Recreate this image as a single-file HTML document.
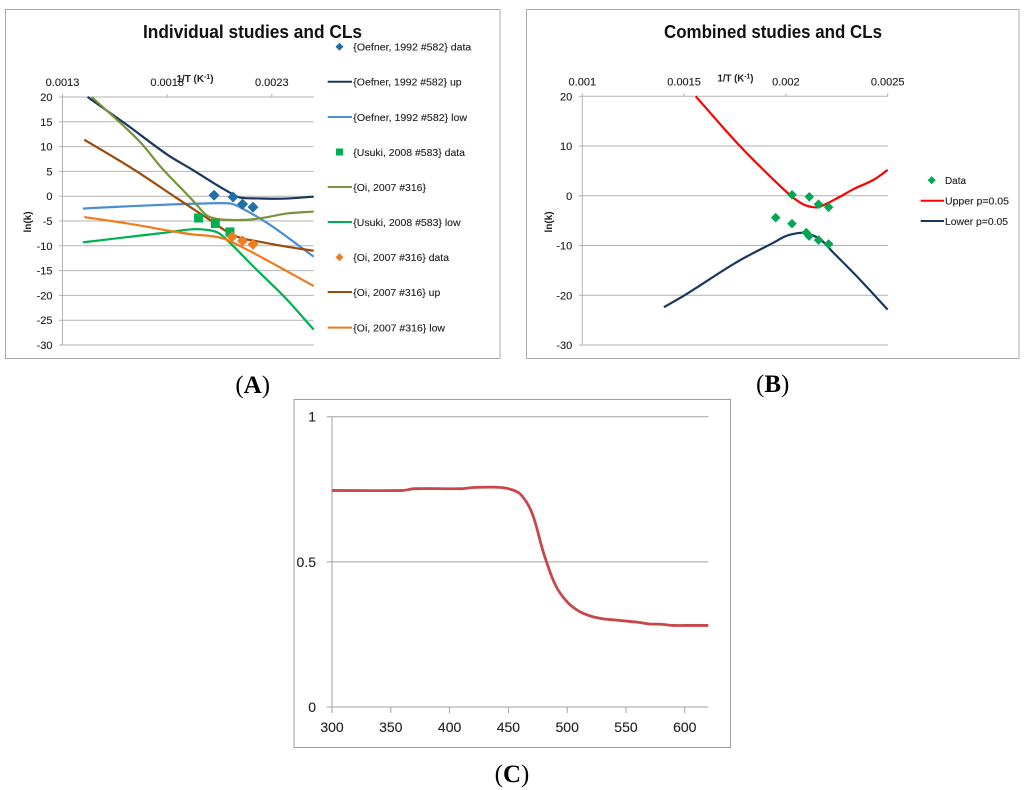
<!DOCTYPE html>
<html lang="en">
<head>
<meta charset="utf-8">
<title>Individual and combined studies with confidence limits</title>
<style>
html,body{margin:0;padding:0;background:#fff;width:1024px;height:790px;overflow:hidden}
svg{display:block;filter:blur(0.35px)}
text{font-family:"Liberation Sans",sans-serif;fill:#222;stroke:#222;stroke-width:.12px}
.leg{font-size:10.5px}
.title{font-size:18px;font-weight:bold;fill:#111;stroke:none}
.axt{font-size:10px;font-weight:bold;fill:#222;stroke:none}
.panel{font-family:"Liberation Serif",serif;font-size:25px;fill:#000;stroke:none}
.panel tspan{font-weight:bold}
</style>
</head>
<body>
<svg id="fig" xmlns="http://www.w3.org/2000/svg" width="1024" height="790" viewBox="0 0 1024 790">
  <rect x="5.5" y="9.5" width="494.5" height="349" fill="#fff" stroke="#ababab"/>
  <rect x="526.5" y="9.5" width="492.5" height="349" fill="#fff" stroke="#ababab"/>
  <rect x="294" y="399.5" width="436.5" height="348" fill="#fff" stroke="#9c9c9c"/>

  <text class="title" x="143" y="38" textLength="219" lengthAdjust="spacingAndGlyphs">Individual studies and CLs</text>
  <text class="title" x="664" y="38" textLength="218" lengthAdjust="spacingAndGlyphs">Combined studies and CLs</text>

  <g id="a-grid"></g>
  <g id="b-grid"></g>
  <g id="c-grid"></g>

  <text class="axt" x="176.5" y="82" textLength="37" lengthAdjust="spacingAndGlyphs">1/T (K<tspan dy="-3" font-size="7">-1</tspan><tspan dy="3">)</tspan></text>
  <text class="axt" x="717.5" y="81.5" textLength="36" lengthAdjust="spacingAndGlyphs">1/T (K<tspan dy="-3" font-size="7">-1</tspan><tspan dy="3">)</tspan></text>
  <text class="axt" transform="translate(31,222) rotate(-90)" text-anchor="middle">ln(k)</text>
  <text class="axt" transform="translate(552,222) rotate(-90)" text-anchor="middle">ln(k)</text>

  <g id="a-marks"></g>
  <g id="b-marks"></g>
  <g id="c-marks"></g>

  <g>
    <g>
      <path d="M339.5 42.7l4 4-4 4-4-4z" fill="#1f6fa8"/>
      <text class="leg" x="353.3" y="50.5" textLength="118" lengthAdjust="spacingAndGlyphs">{Oefner, 1992 #582} data</text>
    </g>
    <g>
      <line x1="327.7" x2="352" y1="81.7" y2="81.7" stroke="#17375e" stroke-width="2"/>
      <text class="leg" x="353.3" y="85.5" textLength="108.3" lengthAdjust="spacingAndGlyphs">{Oefner, 1992 #582} up</text>
    </g>
    <g>
      <line x1="327.7" x2="352" y1="117" y2="117" stroke="#4a8fd0" stroke-width="2"/>
      <text class="leg" x="353.3" y="120.8" textLength="113.7" lengthAdjust="spacingAndGlyphs">{Oefner, 1992 #582} low</text>
    </g>
    <g>
      <rect x="336" y="148.5" width="7" height="7" fill="#00b050"/>
      <text class="leg" x="353.3" y="155.8" textLength="111.7" lengthAdjust="spacingAndGlyphs">{Usuki, 2008 #583} data</text>
    </g>
    <g>
      <line x1="327.7" x2="352" y1="187" y2="187" stroke="#77933c" stroke-width="2"/>
      <text class="leg" x="353.3" y="190.8" textLength="72.7" lengthAdjust="spacingAndGlyphs">{Oi, 2007 #316}</text>
    </g>
    <g>
      <line x1="327.7" x2="352" y1="222" y2="222" stroke="#00b050" stroke-width="2"/>
      <text class="leg" x="353.3" y="225.8" textLength="107.3" lengthAdjust="spacingAndGlyphs">{Usuki, 2008 #583} low</text>
    </g>
    <g>
      <path d="M339.5 253.3l4 4-4 4-4-4z" fill="#f47c20"/>
      <text class="leg" x="353.3" y="261.1" textLength="95.7" lengthAdjust="spacingAndGlyphs">{Oi, 2007 #316} data</text>
    </g>
    <g>
      <line x1="327.7" x2="352" y1="292" y2="292" stroke="#9c4a0a" stroke-width="2"/>
      <text class="leg" x="353.3" y="295.8" textLength="87" lengthAdjust="spacingAndGlyphs">{Oi, 2007 #316} up</text>
    </g>
    <g>
      <line x1="327.7" x2="352" y1="327.6" y2="327.6" stroke="#f07a1a" stroke-width="2"/>
      <text class="leg" x="353.3" y="331.4" textLength="91.7" lengthAdjust="spacingAndGlyphs">{Oi, 2007 #316} low</text>
    </g>
  </g>

  <g>
    <g>
      <path d="M931.7 176.3l4 4-4 4-4-4z" fill="#00a651"/>
      <text class="leg" x="945" y="184.2" textLength="21" lengthAdjust="spacingAndGlyphs">Data</text>
    </g>
    <g>
      <line x1="920.7" x2="944" y1="200.7" y2="200.7" stroke="#ff0000" stroke-width="2"/>
      <text class="leg" x="945" y="204.5" textLength="64" lengthAdjust="spacingAndGlyphs">Upper p=0.05</text>
    </g>
    <g>
      <line x1="920.7" x2="944" y1="221" y2="221" stroke="#17375e" stroke-width="2"/>
      <text class="leg" x="945" y="224.8" textLength="63" lengthAdjust="spacingAndGlyphs">Lower p=0.05</text>
    </g>
  </g>

  <text class="panel" x="252.7" y="393" text-anchor="middle">(<tspan>A</tspan>)</text>
  <text class="panel" x="772.7" y="392" text-anchor="middle">(<tspan>B</tspan>)</text>
  <text class="panel" x="512" y="782" text-anchor="middle">(<tspan>C</tspan>)</text>
</svg>

<script>
// Chart A data
const aXTicks = [0.0013, 0.0018, 0.0023];
const aXTickLabels = ['0.0013', '0.0018', '0.0023'];
const aYTicks = [20, 15, 10, 5, 0, -5, -10, -15, -20, -25, -30];

const oefnerUpX = [0.00142, 0.001607, 0.0018, 0.001918, 0.00202, 0.002115, 0.00215, 0.00223, 0.00235, 0.0025];
const oefnerUpY = [20, 14.4, 8.4, 5.4, 2.7, 0.35, -0.3, -0.45, -0.5, -0.1];
const oefnerLowX = [0.001397, 0.00148, 0.0018, 0.00207, 0.002115, 0.00216, 0.00224, 0.00232, 0.0025];
const oefnerLowY = [-2.5, -2.3, -1.7, -1.4, -1.6, -2.5, -4.4, -6.6, -12.2];
const qiX = [0.00144, 0.00166, 0.00178, 0.00191, 0.00194, 0.00199, 0.00204, 0.002115, 0.0022, 0.00228, 0.00237, 0.0025];
const qiY = [20, 11.4, 5.4, -0.3, -1.7, -3.9, -4.6, -4.8, -4.7, -4.2, -3.5, -3.1];
const usukiLowX = [0.001397, 0.00148, 0.001638, 0.0018, 0.00191, 0.00197, 0.00204, 0.0021, 0.00221, 0.00236, 0.0025];
const usukiLowY = [-9.3, -8.9, -8.1, -7.3, -6.7, -6.7, -7.3, -9.4, -14.1, -20.3, -26.9];
const qiUpX = [0.001404, 0.00164, 0.00185, 0.00199, 0.00208, 0.00215, 0.00223, 0.00236, 0.0025];
const qiUpY = [11.4, 5.4, -0.5, -4.4, -7, -8.4, -9.1, -10.1, -11];
const qiLowX = [0.001404, 0.00164, 0.0018, 0.00192, 0.00202, 0.00208, 0.00221, 0.0025];
const qiLowY = [-4.2, -5.7, -6.9, -7.7, -8.1, -8.7, -11.4, -18.1];

const oefnerDataX = [0.002024, 0.002115, 0.00216, 0.00221];
const oefnerDataY = [0.2, -0.15, -1.6, -2.2];
const usukiDataX = [0.00195, 0.00203, 0.0021];
const usukiDataY = [-4.4, -5.5, -7.2];
const qiDataX = [0.00211, 0.00216, 0.00221];
const qiDataY = [-8.2, -9, -9.7];

// Chart B data
const bXTicks = [0.001, 0.0015, 0.002, 0.0025];
const bXTickLabels = ['0.001', '0.0015', '0.002', '0.0025'];
const bYTicks = [20, 10, 0, -10, -20, -30];

const upperX = [0.001557, 0.001774, 0.00194, 0.00203, 0.002085, 0.002134, 0.002167, 0.002265, 0.00233, 0.00243, 0.0025];
const upperY = [20, 10, 3.2, -0.2, -1.7, -2.3, -2.2, -0.2, 1.3, 3.2, 5.2];
const lowerX = [0.001401, 0.00151, 0.00176, 0.00194, 0.002, 0.00206, 0.0021, 0.00217, 0.00223, 0.00236, 0.0025];
const lowerY = [-22.4, -19.8, -13.3, -9.4, -8.1, -7.5, -7.5, -8.8, -11.3, -16.7, -22.9];
const combinedDataX = [0.00195, 0.00203, 0.00203, 0.002115, 0.00216, 0.00221, 0.0021, 0.002114, 0.00216, 0.00221];
const combinedDataY = [-4.4, 0.2, -5.6, -0.2, -1.7, -2.3, -7.4, -8.1, -8.9, -9.7];

// Chart C data
const cXTicks = [300, 350, 400, 450, 500, 550, 600];
const cYTicks = [1, 0.5, 0];
const temperature = [300, 360, 370, 410, 420, 440, 450, 460, 470, 480, 490, 500, 510, 520, 530, 540, 550, 560, 570, 580, 590, 600, 620];
const fraction = [0.746, 0.746, 0.752, 0.752, 0.756, 0.757, 0.752, 0.734, 0.669, 0.53, 0.42, 0.362, 0.33, 0.313, 0.304, 0.3, 0.296, 0.292, 0.286, 0.285, 0.281, 0.281, 0.281];

const NS = 'http://www.w3.org/2000/svg';
function make(tag, parent, attrs) {
  const el = document.createElementNS(NS, tag);
  for (const k in attrs) el.setAttribute(k, attrs[k]);
  parent.appendChild(el);
  return el;
}
function linear(d0, d1, p0, p1) {
  return function (v) { return p0 + (v - d0) * (p1 - p0) / (d1 - d0); };
}
// Smooth path through the data points, like the spreadsheet's smoothed lines
function smoothPath(pts) {
  let d = 'M' + pts[0][0].toFixed(2) + ' ' + pts[0][1].toFixed(2);
  for (let i = 0; i < pts.length - 1; i++) {
    const p0 = pts[Math.max(i - 1, 0)], p1 = pts[i], p2 = pts[i + 1], p3 = pts[Math.min(i + 2, pts.length - 1)];
    const len = Math.hypot(p2[0] - p1[0], p2[1] - p1[1]);
    const l1 = Math.hypot(p2[0] - p0[0], p2[1] - p0[1]) || 1;
    const l2 = Math.hypot(p3[0] - p1[0], p3[1] - p1[1]) || 1;
    const c1x = p1[0] + (p2[0] - p0[0]) / l1 * len / 3;
    const c1y = p1[1] + (p2[1] - p0[1]) / l1 * len / 3;
    const c2x = p2[0] - (p3[0] - p1[0]) / l2 * len / 3;
    const c2y = p2[1] - (p3[1] - p1[1]) / l2 * len / 3;
    d += 'C' + c1x.toFixed(2) + ' ' + c1y.toFixed(2) + ' ' + c2x.toFixed(2) + ' ' + c2y.toFixed(2) + ' ' + p2[0].toFixed(2) + ' ' + p2[1].toFixed(2);
  }
  return d;
}
function drawLine(parent, xs, ys, sx, sy, color, width, name) {
  const pts = xs.map(function (v, i) { return [sx(v), sy(ys[i])]; });
  const el = make('path', parent, { d: smoothPath(pts), fill: 'none', stroke: color, 'stroke-width': width, 'stroke-linejoin': 'round', 'stroke-linecap': 'butt' });
  
  
}
function drawDiamonds(parent, xs, ys, sx, sy, color, r, name) {
  xs.forEach(function (v, i) {
    const x = sx(v), y = sy(ys[i]);
    const el = make('path', parent, { d: 'M' + x + ' ' + (y - r) + 'L' + (x + r) + ' ' + y + 'L' + x + ' ' + (y + r) + 'L' + (x - r) + ' ' + y + 'Z', fill: color });
    
    
  });
}
function drawSquares(parent, xs, ys, sx, sy, color, r, name) {
  xs.forEach(function (v, i) {
    const el = make('rect', parent, { x: sx(v) - r, y: sy(ys[i]) - r, width: 2 * r, height: 2 * r, fill: color });
    
    
  });
}
function seg(parent, x1, y1, x2, y2, color, name) {
  const el = make('line', parent, { x1: x1, y1: y1, x2: x2, y2: y2, stroke: color, 'stroke-width': 1 });
  
  
}
function label(parent, x, y, str, anchor, size, name) {
  const el = make('text', parent, { x: x, y: y, 'text-anchor': anchor, 'font-size': size });
  el.textContent = str;
  
  
}

// Shared layout for charts A and B: value axis on the left, x axis along the top
function drawTopAxes(parent, prefix, sx, sy, xTicks, xLabels, yTicks, left, right) {
  const top = sy(20);
  yTicks.forEach(function (v) {
    seg(parent, left - 3.5, sy(v), right, sy(v), '#b2b2b2', prefix + '-gridline-' + v);
    label(parent, left - 10, sy(v) + 4, String(v), 'end', 11, prefix + '-y-tick-label-' + v);
  });
  seg(parent, left, top, left, sy(-30), '#b2b2b2', prefix + '-y-axis-line');
  xTicks.forEach(function (v, i) {
    seg(parent, sx(v), top - 3, sx(v), top, '#b2b2b2', prefix + '-x-tick-' + i);
    label(parent, sx(v), top - 11, xLabels[i], 'middle', 11, prefix + '-x-tick-label-' + i);
  });
}

// Chart A
const ax = linear(0.0013, 0.0025, 62.5, 313.7);
const ay = linear(20, -30, 97, 345);
drawTopAxes(document.getElementById('a-grid'), 'chart-a', ax, ay, aXTicks, aXTickLabels, aYTicks, 62.5, 313.7);
const aMarks = document.getElementById('a-marks');
drawLine(aMarks, oefnerUpX, oefnerUpY, ax, ay, '#17375e', 2.2, 'line-oefner-up');
drawLine(aMarks, oefnerLowX, oefnerLowY, ax, ay, '#4a8fd0', 2.2, 'line-oefner-low');
drawLine(aMarks, qiX, qiY, ax, ay, '#77933c', 2.2, 'line-qi');
drawLine(aMarks, usukiLowX, usukiLowY, ax, ay, '#00b050', 2.2, 'line-usuki-low');
drawLine(aMarks, qiUpX, qiUpY, ax, ay, '#9c4a0a', 2.2, 'line-qi-up');
drawLine(aMarks, qiLowX, qiLowY, ax, ay, '#f07a1a', 2.2, 'line-qi-low');
drawDiamonds(aMarks, oefnerDataX, oefnerDataY, ax, ay, '#1f6fa8', 5.5, 'point-oefner-data');
drawSquares(aMarks, usukiDataX, usukiDataY, ax, ay, '#00b050', 4.5, 'point-usuki-data');
drawDiamonds(aMarks, qiDataX, qiDataY, ax, ay, '#f47c20', 5.5, 'point-qi-data');

// Chart B
const bx = linear(0.001, 0.0025, 582.3, 887.7);
const by = linear(20, -30, 96.3, 345);
drawTopAxes(document.getElementById('b-grid'), 'chart-b', bx, by, bXTicks, bXTickLabels, bYTicks, 582.3, 888);
const bMarks = document.getElementById('b-marks');
drawLine(bMarks, upperX, upperY, bx, by, '#ff0000', 2.2, 'line-upper');
drawLine(bMarks, lowerX, lowerY, bx, by, '#17375e', 2.2, 'line-lower');
drawDiamonds(bMarks, combinedDataX, combinedDataY, bx, by, '#00a651', 4.8, 'point-combined-data');

// Chart C
const cx = linear(300, 620, 332, 708.3);
const cy = linear(0, 1, 707, 416.7);
const cGrid = document.getElementById('c-grid');
cYTicks.forEach(function (v) {
  seg(cGrid, 326.7, cy(v), 708.3, cy(v), '#a0a0a0', 'chart-c-gridline-' + v);
  label(cGrid, 316, cy(v) + 5, String(v), 'end', 14, 'chart-c-y-tick-label-' + v);
});
seg(cGrid, 332, cy(1), 332, cy(0), '#a0a0a0', 'chart-c-y-axis-line');
cXTicks.forEach(function (v) {
  seg(cGrid, cx(v), cy(0), cx(v), cy(0) + 6, '#a0a0a0', 'chart-c-x-tick-' + v);
  label(cGrid, cx(v), 732, String(v), 'middle', 14, 'chart-c-x-tick-label-' + v);
});
drawLine(document.getElementById('c-marks'), temperature, fraction, cx, cy, '#c8474a', 2.8, 'line-fraction');
</script>
</body>
</html>
